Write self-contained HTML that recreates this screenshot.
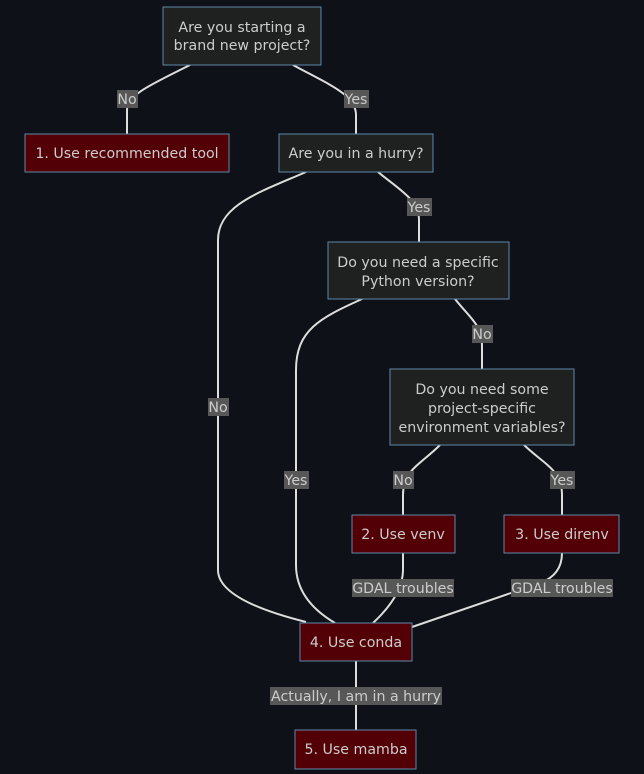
<!DOCTYPE html>
<html><head><meta charset="utf-8"><style>
html,body{margin:0;padding:0;background:#0e1117;}
svg{display:block}
text{font-family:"DejaVu Sans","Liberation Sans",sans-serif;font-size:14.2px;fill:#ccc;}
.n{fill:#1f2020;stroke:#5e87a8;stroke-width:1}
.r{fill:#520006;stroke:#5e87a8;stroke-width:1}
.e{fill:none;stroke:#ddd;stroke-width:2}
.lb{fill:#575757}
</style></head><body>
<svg width="644" height="774" viewBox="0 0 644 774" xmlns="http://www.w3.org/2000/svg">
<rect width="644" height="774" fill="#0e1117"/>
<path class="e" d="M190,65 C150,85 127,95 127,110 L127,134"/>
<path class="e" d="M293,65 C330,85 356,95 356,115 L356,134"/>
<path class="e" d="M306,172 C260,192 218,205 218,240 L218,570 Q218,600 306,622"/>
<path class="e" d="M378,172 C400,190 419,200 419,220 L419,242"/>
<path class="e" d="M362,299 C320,318 296,330 296,370 L296,565 Q296,600 335,623"/>
<path class="e" d="M455,299 C470,318 482,325 482,345 L482,369"/>
<path class="e" d="M440,445 C420,465 403,470 403,495 L403,515"/>
<path class="e" d="M524,445 C545,465 562,470 562,495 L562,515"/>
<path class="e" d="M403,553 L403,570 Q403,595 373,623"/>
<path class="e" d="M562,553 Q562,575 540,583 L412,627"/>
<path class="e" d="M356,661 L356,730"/>
<rect class="lb" x="117" y="90" width="21" height="18"/><text x="127" y="104" text-anchor="middle">No</text>
<rect class="lb" x="344" y="90" width="25" height="18"/><text x="356" y="104" text-anchor="middle">Yes</text>
<rect class="lb" x="407" y="198" width="25" height="18"/><text x="419" y="212" text-anchor="middle">Yes</text>
<rect class="lb" x="472" y="325" width="21" height="18"/><text x="482" y="339" text-anchor="middle">No</text>
<rect class="lb" x="208" y="398" width="21" height="18"/><text x="218" y="412" text-anchor="middle">No</text>
<rect class="lb" x="284" y="471" width="25" height="18"/><text x="296" y="485" text-anchor="middle">Yes</text>
<rect class="lb" x="393" y="471" width="21" height="18"/><text x="403" y="485" text-anchor="middle">No</text>
<rect class="lb" x="550" y="471" width="25" height="18"/><text x="562" y="485" text-anchor="middle">Yes</text>
<rect class="lb" x="352" y="579" width="102" height="18"/><text x="403" y="593" text-anchor="middle">GDAL troubles</text>
<rect class="lb" x="511" y="579" width="102" height="18"/><text x="562" y="593" text-anchor="middle">GDAL troubles</text>
<rect class="lb" x="270" y="687" width="172" height="18"/><text x="356" y="701" text-anchor="middle">Actually, I am in a hurry</text>
<rect class="n" x="163" y="7" width="158" height="58"/>
<text x="242" y="32" text-anchor="middle">Are you starting a</text>
<text x="242" y="50" text-anchor="middle">brand new project?</text>
<rect class="r" x="25" y="134" width="204" height="38"/>
<text x="127" y="158" text-anchor="middle">1. Use recommended tool</text>
<rect class="n" x="279" y="134" width="154" height="38"/>
<text x="356" y="158" text-anchor="middle">Are you in a hurry?</text>
<rect class="n" x="328" y="242" width="181" height="57"/>
<text x="418" y="267" text-anchor="middle">Do you need a specific</text>
<text x="418" y="286" text-anchor="middle">Python version?</text>
<rect class="n" x="390" y="369" width="184" height="76"/>
<text x="482" y="394" text-anchor="middle">Do you need some</text>
<text x="482" y="413" text-anchor="middle">project-specific</text>
<text x="482" y="432" text-anchor="middle">environment variables?</text>
<rect class="r" x="352" y="515" width="103" height="38"/>
<text x="403" y="539" text-anchor="middle">2. Use venv</text>
<rect class="r" x="504" y="515" width="115" height="38"/>
<text x="562" y="539" text-anchor="middle">3. Use direnv</text>
<rect class="r" x="300" y="623" width="112" height="38"/>
<text x="356" y="647" text-anchor="middle">4. Use conda</text>
<rect class="r" x="295" y="730" width="121" height="39"/>
<text x="356" y="754" text-anchor="middle">5. Use mamba</text>
</svg>
</body></html>
